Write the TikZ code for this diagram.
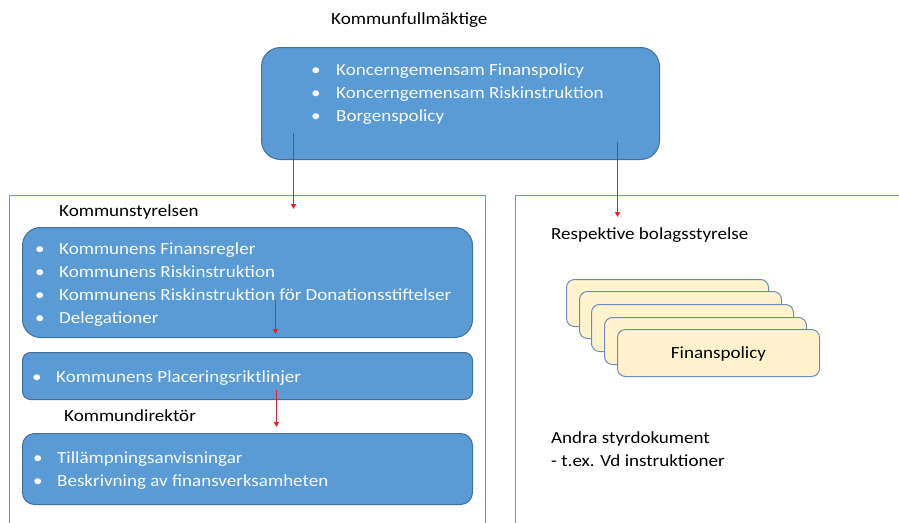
\documentclass[tikz,border=0pt]{standalone}
\usepackage{fontspec}
\setmainfont{Carlito}[FakeStretch=1.12]
\usetikzlibrary{arrows.meta}
\definecolor{boxblue}{HTML}{5B9BD5}
\definecolor{boxline}{HTML}{41719C}
\definecolor{frameline}{HTML}{7397C4}
\definecolor{cardfill}{HTML}{FFF2CC}
\definecolor{cardline}{HTML}{6D8DB5}
\definecolor{arrowred}{HTML}{EE1C25}
\begin{document}
\begin{tikzpicture}[x=1pt,y=-1pt]

\tikzstyle{blue_box} = [draw=boxline,fill=boxblue,line width=1pt,anchor=north west,inner sep=0]
\tikzstyle{frame_box} = [draw=frameline,line width=1pt,anchor=north west,inner sep=0]
\tikzstyle{card_box} = [draw=cardline,fill=cardfill,line width=1pt,anchor=north west,inner sep=0,minimum width=202pt,minimum height=47pt,rounded corners=8pt]
\tikzstyle{list_text} = [text=white!95!boxblue,font={\fontsize{17}{23}\selectfont},align=left,anchor=west,inner sep=0]
\tikzstyle{label_text} = [text=black,font={\fontsize{17}{23}\selectfont},align=left,anchor=west,inner sep=0]
\tikzstyle{red_arrow_edge} = [-{Triangle[length=5pt,width=5pt]}, draw=arrowred, line width=1.5pt]

\useasboundingbox (0,0) rectangle (899,522);

% containers
\node [frame_box,minimum width=476pt,minimum height=340pt] (f1) at (9,195) {};
\node [frame_box,minimum width=400pt,minimum height=340pt] (f2) at (515,195) {};

% blue boxes
\node [blue_box,minimum width=398pt,minimum height=112pt,rounded corners=19pt] (b1) at (261,47) {};
\node [blue_box,minimum width=450pt,minimum height=110pt,rounded corners=18pt] (b2) at (22,227) {};
\node [blue_box,minimum width=450pt,minimum height=47pt,rounded corners=8pt] (b3) at (22,352) {};
\node [blue_box,minimum width=450pt,minimum height=71pt,rounded corners=12pt] (b4) at (22,433) {};

\node [list_text] (l1) at (311,94.5) {\makebox[25pt][l]{\textbullet}Koncerngemensam Finanspolicy\\\makebox[25pt][l]{\textbullet}Koncerngemensam Riskinstruktion\\\makebox[25pt][l]{\textbullet}Borgenspolicy};
\node [list_text] (l2) at (35,284.5) {\makebox[24pt][l]{\textbullet}Kommunens Finansregler\\\makebox[24pt][l]{\textbullet}Kommunens Riskinstruktion\\\makebox[24pt][l]{\textbullet}Kommunens Riskinstruktion för Donationsstiftelser\\\makebox[24pt][l]{\textbullet}Delegationer};
\node [list_text] (l3) at (32,378) {\makebox[24pt][l]{\textbullet}Kommunens Placeringsriktlinjer};
\node [list_text] (l4) at (33,471) {\makebox[24pt][l]{\textbullet}Tillämpningsanvisningar\\\makebox[24pt][l]{\textbullet}Beskrivning av finansverksamheten};

% labels
\node [label_text] (t1) at (331,20) {Kommunfullmäktige};
\node [label_text] (t2) at (59,212) {Kommunstyrelsen};
\node [label_text] (t3) at (64,416) {Kommundirektör};
\node [label_text] (t4) at (551,235) {Respektive bolagsstyrelse};
\node [label_text] (t5) at (551,449.5) {Andra styrdokument\\- t.ex. Vd instruktioner};

% policy cards
\node [card_box] (c1) at (566,279) {};
\node [card_box] (c2) at (579,291) {};
\node [card_box] (c3) at (591,304) {};
\node [card_box] (c4) at (604,317) {};
\node [card_box] (c5) at (617,329) {};
\node [label_text,anchor=center] (t6) at ([yshift=-1pt]c5.center) {Finanspolicy};

% arrows
\coordinate (a1) at (293.5,133);
\coordinate (a2) at (293.5,209);
\coordinate (a3) at (617.5,142);
\coordinate (a4) at (617.5,217);
\coordinate (a5) at (275.5,300);
\coordinate (a6) at (275.5,334);
\coordinate (a7) at (276.5,390);
\coordinate (a8) at (276.5,427);
\draw [red_arrow_edge] (a1) -- (a2);
\draw [red_arrow_edge] (a3) -- (a4);
\draw [red_arrow_edge] (a5) -- (a6);
\draw [red_arrow_edge] (a7) -- (a8);
\end{tikzpicture}
\end{document}
